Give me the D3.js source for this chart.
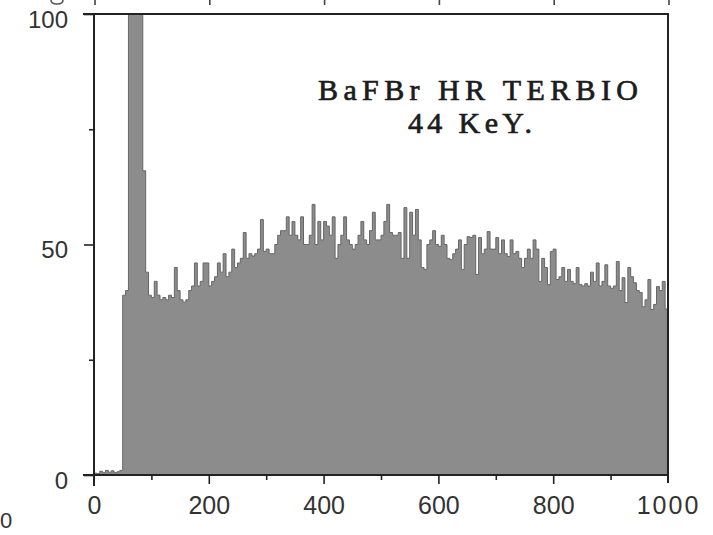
<!DOCTYPE html>
<html>
<head>
<meta charset="utf-8">
<script src="https://cdn.jsdelivr.net/npm/d3@7"></script>
<style>
  html, body { margin: 0; padding: 0; background: #fff; }
  svg { display: block; }
</style>
</head>
<body>
<svg id="chart" width="713" height="535"></svg>
<script>
// ---- data ----
const binWidth = 5; // channel width of each histogram bin
const binStarts = d3.range(0, 1000, 5); // channel 0..995
const counts = [
  0.4, 0.3, 0.8, 0.5, 1.0, 0.6, 0.9, 0.5, 0.7, 1.0,          // 0-45
  39, 40, 130, 180, 220, 160, 110, 66, 44, 39,               // 50-95
  38.5, 42, 39, 38, 38.5, 38, 39, 38.5, 45, 40,              // 100-145
  38, 37.5, 38, 40, 41, 46, 41, 42, 46, 46,                  // 150-195
  41, 42, 43, 46, 44, 48, 43, 44, 49, 45,                    // 200-245
  46, 47, 52.6, 47, 48, 47.5, 48, 49, 55.4, 48.5,            // 250-295
  49, 48, 48, 50, 52, 53, 53, 56, 52, 55,                    // 300-345
  52, 51, 56, 50, 50, 52, 58.7, 50, 55, 51,                  // 350-395
  55, 54, 52, 56, 47, 50, 52, 56, 51, 50,                    // 400-445
  49, 50, 52, 55, 51, 50, 53, 57, 51, 51,                    // 450-495
  52, 55, 58.7, 52.6, 52, 52, 52.6, 47, 58, 47,              // 500-545
  57, 52, 57.6, 51, 45, 44.6, 50, 51, 53, 50,                // 550-595
  49.6, 52, 50, 47, 46.7, 48, 49, 51, 44.6, 50,              // 600-645
  51.7, 51.5, 52, 43.5, 51.5, 48, 49, 52.8, 49, 49,          // 650-695
  51.5, 48, 51, 48, 47.4, 51, 48, 48.5, 47, 45,              // 700-745
  47, 49, 47, 51, 49, 42, 47, 45, 41.3, 48.5,                // 750-795
  49, 42.4, 43, 45, 42, 44.6, 42, 41.5, 45, 41.3,            // 800-845
  41, 41.5, 41, 44, 42, 46, 41, 42, 45.6, 41,                // 850-895
  40.5, 41, 46.3, 40, 42.8, 37.4, 45, 43, 41.7, 40,          // 900-945
  39.6, 36.5, 38, 42.4, 35.9, 37, 40.9, 40, 42, 36           // 950-995
];
const xTickMajor = [0, 200, 400, 600, 800, 1000];
const xTickMinor = [100, 300, 500, 700, 900];
const yTickMajor = [0, 50, 100];
const yTickMinor = [25, 75];
const titleLines = ["BaFBr HR TERBIO", "44 KeY."];
const strayLabel = "0";

// ---- layout ----
const svg = d3.select("#chart");
const x = d3.scaleLinear().domain([0, 1000]).range([94, 668]);
const y = d3.scaleLinear().domain([0, 100]).range([475, 14]);
const ink = "#222";
const font = "Liberation Sans, Arial, Helvetica, sans-serif";

// stray fragments of the neighbouring figure at the page edges
svg.selectAll("line.stray").data(xTickMajor).join("line")
  .attr("class", "stray")
  .attr("x1", d => x(d) + 1).attr("x2", d => x(d) + 1)
  .attr("y1", 0).attr("y2", 5)
  .attr("stroke", "#444").attr("stroke-width", 1.6);
svg.append("path")
  .attr("d", "M51,0 Q51,4 57,4 Q63,4 63,0")
  .attr("fill", "none").attr("stroke", "#555").attr("stroke-width", 1.6);
svg.append("text").attr("x", 0).attr("y", 528)
  .attr("text-anchor", "start")
  .attr("font-family", font)
  .attr("font-size", 22).attr("fill", "#333").text(strayLabel);

// clip region = plot frame
svg.append("clipPath").attr("id", "plotclip").append("rect")
  .attr("x", x(0)).attr("y", y(100))
  .attr("width", x(1000) - x(0)).attr("height", y(0) - y(100));

// histogram as stepped area
const pts = binStarts.map((c, i) => [c, counts[i]]);
pts.push([1000, counts[counts.length - 1]]);
const area = d3.area()
  .x(d => x(d[0]))
  .y0(y(0))
  .y1(d => y(d[1]))
  .curve(d3.curveStepAfter);
const line = d3.line()
  .x(d => x(d[0]))
  .y(d => y(d[1]))
  .curve(d3.curveStepAfter);

const g = svg.append("g").attr("clip-path", "url(#plotclip)");
g.append("path").datum(pts).attr("d", area).attr("fill", "#8c8c8c");
g.append("path").datum(pts).attr("d", line)
  .attr("fill", "none").attr("stroke", "#666").attr("stroke-width", 1);

// frame lines
const frame = svg.append("g").attr("stroke", ink).attr("stroke-width", 2).attr("fill", "none");
frame.append("line").attr("x1", x(0) - 11).attr("x2", x(1000) + 1).attr("y1", y(100)).attr("y2", y(100));
frame.append("line").attr("x1", x(0) - 11).attr("x2", x(1000) + 1).attr("y1", y(0)).attr("y2", y(0));
frame.append("line").attr("x1", x(0)).attr("x2", x(0)).attr("y1", y(100)).attr("y2", y(0) + 11);
frame.append("line").attr("x1", x(1000)).attr("x2", x(1000)).attr("y1", y(100)).attr("y2", y(0) + 8);

// axes (ticks only; domain lines drawn above)
const xAxisMajor = d3.axisBottom(x).tickValues(xTickMajor).tickSize(9).tickPadding(12).tickFormat(d3.format("d"));
const xAxisMinor = d3.axisBottom(x).tickValues(xTickMinor).tickSize(5).tickFormat("");
const yAxisMajor = d3.axisLeft(y).tickValues(yTickMajor).tickSize(10).tickPadding(8).tickFormat(d3.format("d"));
const yAxisMinor = d3.axisLeft(y).tickValues(yTickMinor).tickSize(5).tickFormat("");

function styleAxis(sel) {
  sel.select(".domain").remove();
  sel.selectAll(".tick line").attr("stroke", ink).attr("stroke-width", 1.6);
  sel.selectAll(".tick text").attr("fill", "#333").attr("font-family", font);
}

const gx1 = svg.append("g").attr("transform", `translate(0,${y(0)})`).call(xAxisMajor).call(styleAxis);
gx1.selectAll(".tick text").attr("font-size", 25).attr("dy", "0.72em")
  .filter(d => d === 1000).attr("letter-spacing", "2px");
gx1.selectAll(".tick").filter(d => d === 0 || d === 1000).select("line").remove();
svg.append("g").attr("transform", `translate(0,${y(0)})`).call(xAxisMinor).call(styleAxis);

const gy1 = svg.append("g").attr("transform", `translate(${x(0)},0)`).call(yAxisMajor).call(styleAxis);
gy1.selectAll(".tick text").attr("font-size", 24).attr("dy", "0.55em").attr("x", -26);
svg.append("g").attr("transform", `translate(${x(0)},0)`).call(yAxisMinor).call(styleAxis);

// title annotation
const title = svg.append("g")
  .attr("font-family", "Liberation Serif, 'Times New Roman', serif")
  .attr("fill", "#1c1c1c").attr("stroke", "#1c1c1c").attr("stroke-width", 0.7);
title.append("text").attr("x", 478).attr("y", 100)
  .attr("text-anchor", "middle").attr("font-size", 30)
  .attr("textLength", 320).attr("lengthAdjust", "spacing")
  .text(titleLines[0]);
title.append("text").attr("x", 470).attr("y", 133)
  .attr("text-anchor", "middle").attr("font-size", 30)
  .attr("textLength", 124).attr("lengthAdjust", "spacing")
  .text(titleLines[1]);
</script>
</body>
</html>
